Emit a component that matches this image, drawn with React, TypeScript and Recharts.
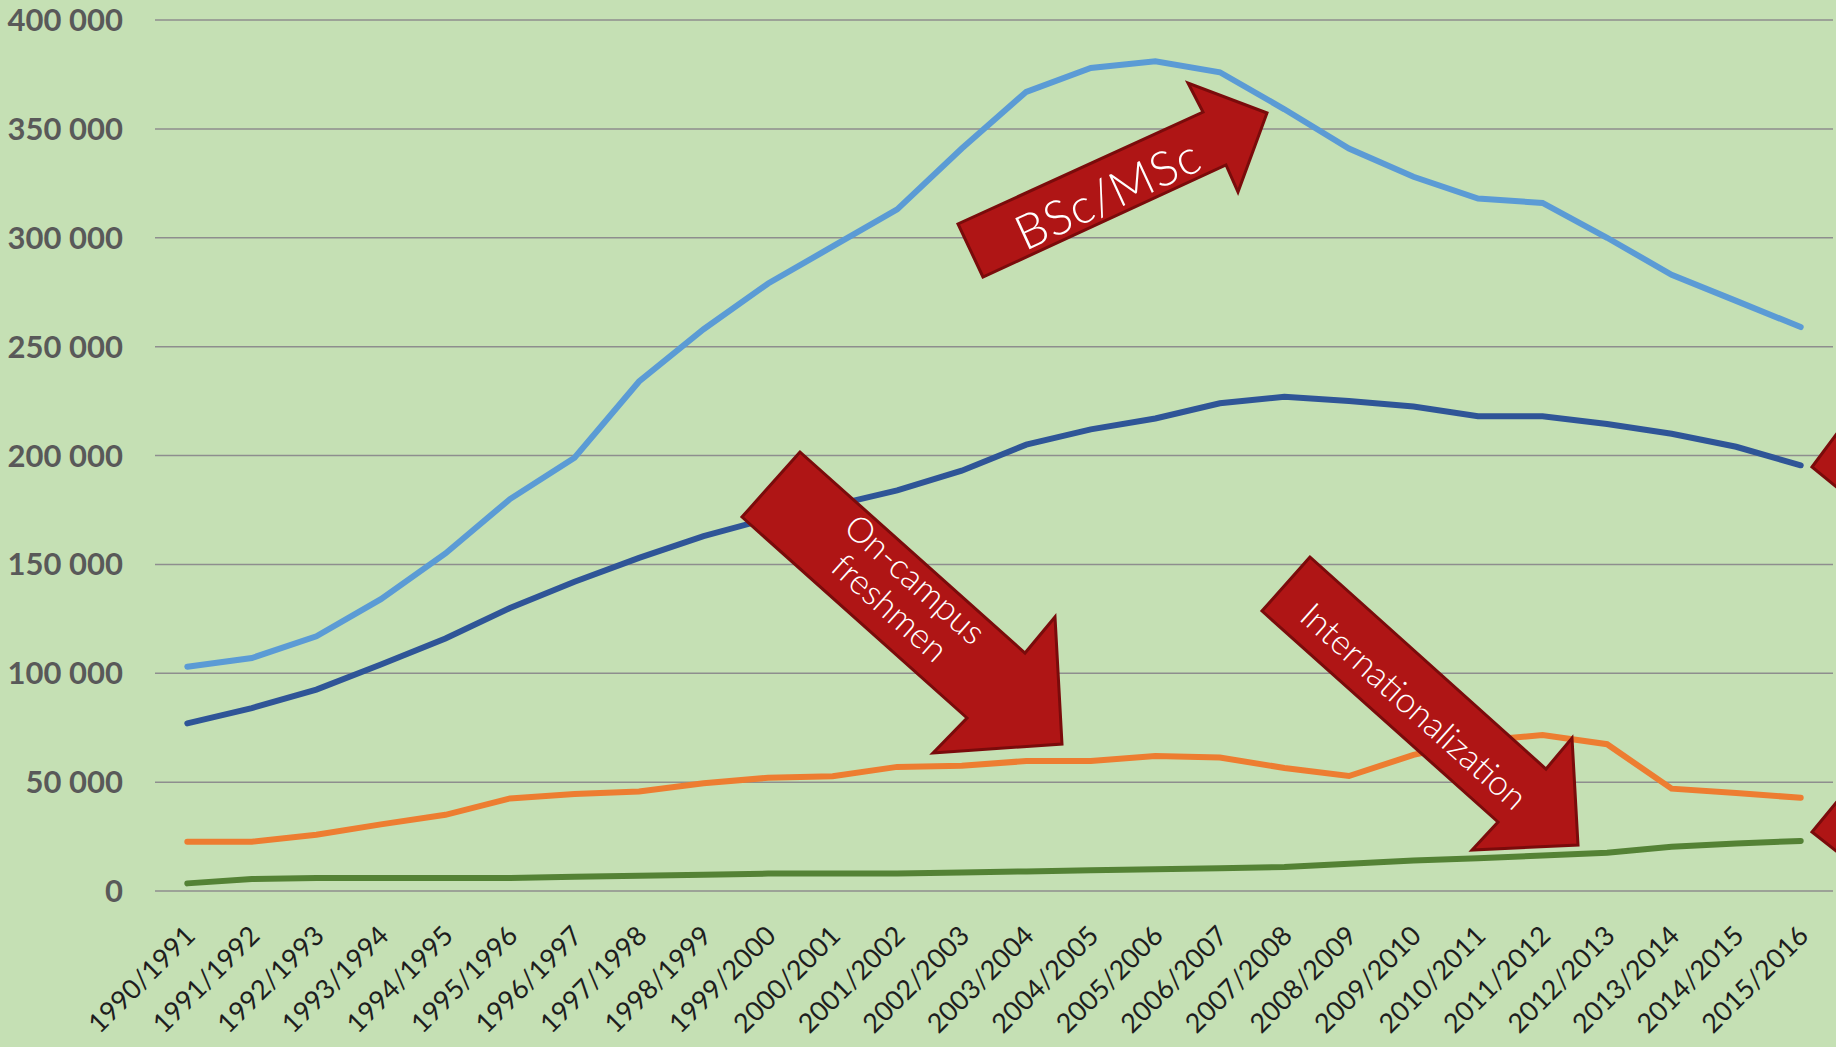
import { CartesianGrid, Line, LineChart, XAxis, YAxis } from "recharts";

const years = [
  "1990/1991", "1991/1992", "1992/1993", "1993/1994", "1994/1995", "1995/1996", "1996/1997",
  "1997/1998", "1998/1999", "1999/2000", "2000/2001", "2001/2002", "2002/2003", "2003/2004",
  "2004/2005", "2005/2006", "2006/2007", "2007/2008", "2008/2009", "2009/2010", "2010/2011",
  "2011/2012", "2012/2013", "2013/2014", "2014/2015", "2015/2016",
];

// light blue — BSc/MSc
const bscMsc = [
  103000, 107000, 117000, 134000, 155000, 180000, 199000, 234000, 258000, 279000, 296000,
  313000, 341000, 367000, 378000, 381000, 376000, 359000, 341000, 328000, 318000, 316000,
  300000, 283000, 271000, 259000,
];

// dark blue
const onCampus = [
  77000, 84000, 92500, 104000, 116000, 130000, 142000, 153000, 163000, 171000, 177000,
  184000, 193000, 205000, 212000, 217000, 224000, 227000, 225000, 222500, 218000, 218000,
  214500, 210000, 204000, 195500,
];

// orange
const freshmen = [
  22600, 22600, 25800, 30600, 35000, 42500, 44600, 45700, 49500, 52000, 52700, 57000,
  57500, 59700, 59700, 62000, 61300, 56500, 52800, 62500, 69000, 71600, 67400, 47000,
  45000, 42800,
];

// green
const international = [
  3500, 5500, 6000, 6000, 6000, 6000, 6500, 7000, 7500, 8000, 8000, 8000, 8500, 9000,
  9500, 10000, 10500, 11000, 12500, 14000, 15000, 16300, 17600, 20300, 21800, 23000,
];

const yTicks = [0, 50000, 100000, 150000, 200000, 250000, 300000, 350000, 400000];

const data = years.map((year, i) => ({
  year,
  bscMsc: bscMsc[i],
  onCampus: onCampus[i],
  freshmen: freshmen[i],
  international: international[i],
}));

const WIDTH = 1836;
const HEIGHT = 1047;
const FONT = "Lato, 'Open Sans', sans-serif";
const ARROW_FILL = "#AF1515";
const ARROW_STROKE = "#7A0B0B";

function spaced(v: number) {
  return String(v).replace(/\B(?=(\d{3})+(?!\d))/g, " ");
}

function XTick({ x, y, payload }: { x?: number; y?: number; payload?: { value: string } }) {
  const tx = (x ?? 0) + 2;
  const ty = (y ?? 0) + 31;
  return (
    <text
      x={tx}
      y={ty}
      transform={`rotate(-45, ${tx}, ${ty})`}
      textAnchor="end"
      dominantBaseline="central"
      fontSize={27}
      fontFamily={FONT}
      fill="#1E1E1E"
    >
      {payload?.value}
    </text>
  );
}

// annotation arrows drawn over the chart (picture decorations, not data)
function Arrows() {
  const pts = (p: number[][]) => p.map(q => q.join(",")).join(" ");
  const labelStyle = { fontFamily: FONT, fontWeight: 300, fill: "#fff" } as const;
  return (
    <svg width={WIDTH} height={HEIGHT} style={{ position: "absolute", left: 0, top: 0, pointerEvents: "none" }}>
      <g fill={ARROW_FILL} stroke={ARROW_STROKE} strokeWidth={3} strokeLinejoin="miter">
        <polygon points={pts([[983, 277], [958, 224], [1203, 112], [1188, 83], [1267, 113], [1238, 192], [1226, 165]])} />
        <polygon points={pts([[800, 452], [742, 517], [967, 718], [933, 753], [1062, 744], [1055, 617], [1025, 653]])} />
        <polygon points={pts([[1310, 557], [1262, 611], [1498, 822], [1472, 850], [1578, 845], [1572, 738], [1546, 769]])} />
        <polygon points={pts([[1812, 467], [1850, 416], [1850, 498]])} />
        <polygon points={pts([[1812, 832], [1850, 786], [1850, 862]])} />
      </g>
      <text x={1107} y={193} transform="rotate(-24.8, 1107, 193)" textAnchor="middle" dominantBaseline="central" fontSize={48} letterSpacing={1} {...labelStyle}>
        BSc/MSc
      </text>
      <text transform="rotate(41.8, 903, 593)" textAnchor="middle" fontSize={35} {...labelStyle}>
        <tspan x={903} y={593} dy={-6}>On-campus</tspan>
        <tspan x={903} y={593} dy={32}>freshmen</tspan>
      </text>
      <text x={1415} y={705} transform="rotate(41.8, 1415, 705)" textAnchor="middle" dominantBaseline="central" fontSize={35} {...labelStyle}>
        Internationalization
      </text>
    </svg>
  );
}

export default function App() {
  return (
    <div style={{ position: "fixed", left: 0, top: 0, width: WIDTH, height: HEIGHT, background: "#C5E0B4", overflow: "hidden" }}>
      <LineChart width={WIDTH} height={HEIGHT} data={data} margin={{ top: 20, right: 3, left: 0, bottom: 0 }}>
        <CartesianGrid vertical={false} stroke="#8E8E8E" strokeWidth={1.5} />
        <XAxis
          dataKey="year"
          interval={0}
          height={156}
          padding={{ left: 32.3, right: 32.3 }}
          axisLine={false}
          tickLine={false}
          tick={<XTick />}
        />
        <YAxis
          domain={[0, 400000]}
          ticks={yTicks}
          width={155}
          axisLine={false}
          tickLine={false}
          tickMargin={26}
          tickFormatter={spaced}
          tick={{ fontSize: 31, fontWeight: 700, fill: "#595959", fontFamily: FONT }}
        />
        <Line type="linear" dataKey="bscMsc" stroke="#5B9BD5" strokeWidth={6} dot={false} strokeLinecap="round" isAnimationActive={false} />
        <Line type="linear" dataKey="onCampus" stroke="#2F5597" strokeWidth={6} dot={false} strokeLinecap="round" isAnimationActive={false} />
        <Line type="linear" dataKey="freshmen" stroke="#ED7D31" strokeWidth={6} dot={false} strokeLinecap="round" isAnimationActive={false} />
        <Line type="linear" dataKey="international" stroke="#548235" strokeWidth={6} dot={false} strokeLinecap="round" isAnimationActive={false} />
      </LineChart>
      <Arrows />
    </div>
  );
}
